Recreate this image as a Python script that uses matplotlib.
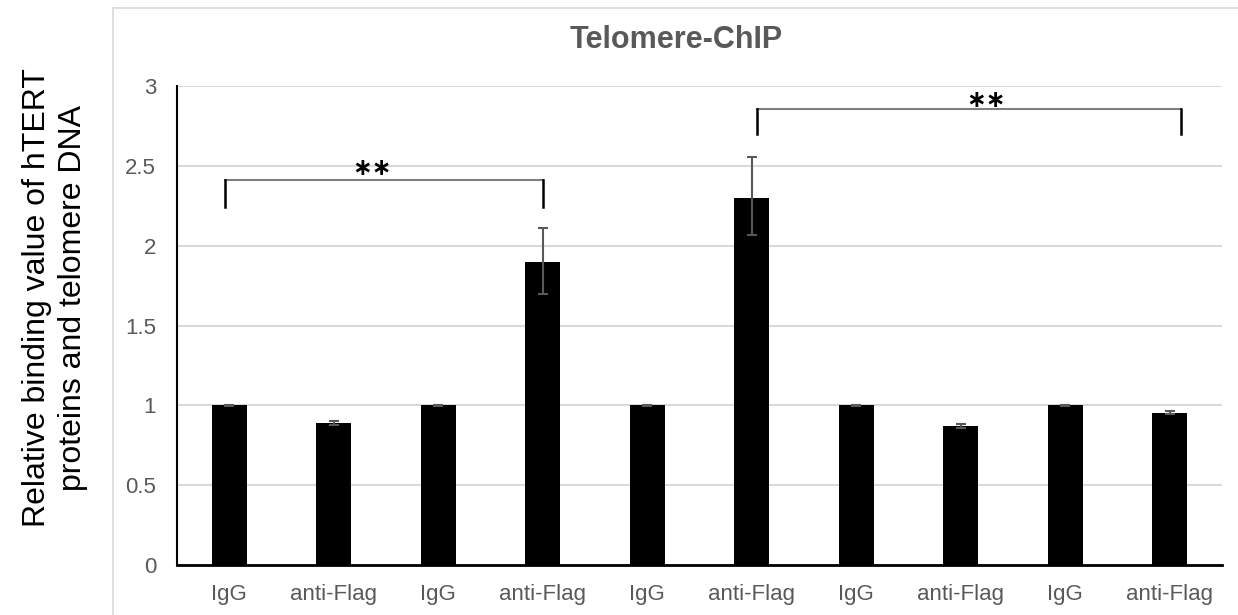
import matplotlib
matplotlib.use("Agg")
import matplotlib.pyplot as plt
from matplotlib.lines import Line2D

plt.rcParams['font.family'] = ['Liberation Sans', 'DejaVu Sans']

categories = ["IgG", "anti-Flag", "IgG", "anti-Flag", "IgG", "anti-Flag", "IgG", "anti-Flag", "IgG", "anti-Flag"]
values = [1.0, 0.89, 1.0, 1.90, 1.0, 2.30, 1.0, 0.87, 1.0, 0.955]
err_low = [0.005, 0.015, 0.005, 0.20, 0.005, 0.235, 0.005, 0.012, 0.005, 0.008]
err_high = [0.005, 0.015, 0.005, 0.21, 0.005, 0.255, 0.005, 0.012, 0.005, 0.008]
yticks = [0, 0.5, 1, 1.5, 2, 2.5, 3]
ytick_labels = ["0", "0.5", "1", "1.5", "2", "2.5", "3"]

# significance brackets: (x_left, x_right, y_top, y_bottom, star_x, star_y)
brackets = [(-0.04, 3.0, 2.41, 2.24, 1.37, 2.50),
            (5.05, 9.11, 2.855, 2.70, 7.24, 2.93)]

fig = plt.figure(figsize=(12.38, 6.15), dpi=100)
ax = fig.add_axes([177/1238, 1-565/615, (1222-177)/1238, (565-86)/615])

x = list(range(len(categories)))
ax.bar(x, values, width=0.335, color='black', zorder=3)
ax.errorbar(x, values, yerr=[err_low, err_high], fmt='none', ecolor='#595959',
            elinewidth=1.5, capsize=3.5, capthick=1.5, zorder=4)

ax.set_xlim(-0.5, 9.5)
ax.set_ylim(0, 3)
ax.set_yticks(yticks)
ax.set_yticklabels(ytick_labels)
ax.set_xticks(x)
ax.set_xticklabels(categories)
ax.tick_params(axis='both', length=0, labelsize=16, labelcolor='#595959')
ax.tick_params(axis='x', pad=14)
ax.tick_params(axis='y', pad=15)
ax.grid(axis='y', color='#d9d9d9', linewidth=1.5, zorder=0)
ax.set_axisbelow(True)
for s in ['top', 'right']:
    ax.spines[s].set_visible(False)
ax.spines['left'].set_color('black')
ax.spines['left'].set_linewidth(1.5)
ax.spines['bottom'].set_color('black')
ax.spines['bottom'].set_linewidth(2)

for (xl, xr, yt, yb, sx, sy) in brackets:
    ax.plot([xl, xr], [yt, yt], color='#7f7f7f', linewidth=1.5, zorder=5, clip_on=False)
    ax.plot([xl, xl], [yt, yb], color='black', linewidth=1.8, zorder=5, clip_on=False)
    ax.plot([xr, xr], [yt, yb], color='black', linewidth=1.8, zorder=5, clip_on=False)
    ax.text(sx, sy, "\u2217\u2217", ha='center', va='center_baseline', fontsize=17,
            fontweight='bold', color='black', family=['DejaVu Sans'])

fig.text(676/1238, 1-40/615, "Telomere-ChIP", ha='center', va='center',
         fontsize=22, fontweight='bold', color='#595959')

fig.text(55/1238, 1-298/615, "Relative binding value of hTERT\nproteins and telomere DNA",
         rotation=90, ha='center', va='center', fontsize=23, color='black', linespacing=1.25)

# chart-area border
fig.add_artist(Line2D([113/1238, 113/1238], [0, 1-8/615], transform=fig.transFigure,
                      color='#d9d9d9', linewidth=1.2))
fig.add_artist(Line2D([113/1238, 1.0], [1-8/615, 1-8/615], transform=fig.transFigure,
                      color='#d9d9d9', linewidth=1.2))

fig.savefig("out.png", dpi=100)
